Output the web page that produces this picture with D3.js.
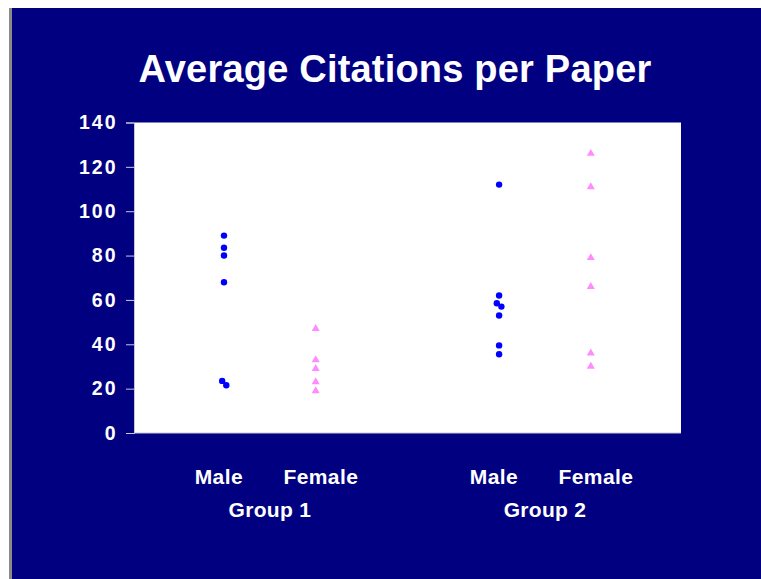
<!DOCTYPE html>
<html>
<head>
<meta charset="utf-8">
<script src="https://cdn.jsdelivr.net/npm/d3@7"></script>
<style>
  html, body { margin: 0; padding: 0; background: #ffffff; }
  svg { display: block; }
  text { font-family: "Liberation Sans", Arial, sans-serif; font-weight: bold; fill: #ffffff; }
</style>
</head>
<body>
<svg id="chart" width="761" height="579"></svg>
<script>
// Citation data by group and gender
const groups = ["Group 1", "Group 2"];
const genders = ["Male", "Female"];
const groupPositions = [[1, 2], [4, 5]];

const group1Male = [89, 83.5, 80, 68, 23.5, 21.5];
const group1MaleJitter = [0, 0, 0, 0, -0.02, 0.025];
const group1Female = [47, 33, 29, 23, 19];
const group2Male = [112, 62, 58.5, 57, 53, 39.5, 35.5];
const group2MaleJitter = [0, 0, -0.025, 0.025, 0, 0, 0];
const group2Female = [126, 111, 79, 66, 36, 30];

const yTicks = [0, 20, 40, 60, 80, 100, 120, 140];
const title = "Average Citations per Paper";

const W = 761, H = 579;
const svg = d3.select("#chart");

// slide frame
svg.append("rect").attr("x", 0).attr("y", 0).attr("width", W).attr("height", H).attr("fill", "#ffffff");
svg.append("rect").attr("x", 9).attr("y", 8).attr("width", W - 9).attr("height", H - 8).attr("fill", "#8a8a8a");
svg.append("rect").attr("x", 12).attr("y", 8).attr("width", W - 12).attr("height", H - 8).attr("fill", "#000080");

const plot = { left: 134, right: 681, top: 122.5, bottom: 433 };

const x = d3.scaleLinear().domain([0, 6]).range([132.3, 682.5]);
const y = d3.scaleLinear().domain([0, 140]).range([plot.bottom, plot.top]);

// plot area
svg.append("rect")
  .attr("x", plot.left).attr("y", plot.top)
  .attr("width", plot.right - plot.left).attr("height", plot.bottom - plot.top)
  .attr("fill", "#ffffff");

// y axis
const yAxis = d3.axisLeft(y).tickValues(yTicks).tickSize(8).tickPadding(10).tickFormat(d3.format("d"));
const gy = svg.append("g").attr("transform", `translate(${plot.left},0)`).call(yAxis);
gy.select(".domain").attr("stroke", "#c8c8d8");
gy.selectAll(".tick line").attr("stroke", "#c8c8d8");
gy.selectAll(".tick text")
  .attr("fill", "#ffffff")
  .attr("dx", "1.5")
  .style("font-size", "19.5px")
  .style("letter-spacing", "2px")
  .style("font-family", "'Liberation Sans', Arial, sans-serif")
  .style("font-weight", "bold");

// x baseline
svg.append("line")
  .attr("x1", plot.left).attr("x2", plot.right)
  .attr("y1", plot.bottom).attr("y2", plot.bottom)
  .attr("stroke", "#c8c8d8");

// title
svg.append("text")
  .attr("x", 395).attr("y", 82)
  .attr("text-anchor", "middle")
  .style("font-size", "38px")
  .style("letter-spacing", "0.2px")
  .text(title);

// category and group labels
groups.forEach((g, gi) => {
  const pos = groupPositions[gi];
  const cx = x((pos[0] + pos[1]) / 2);
  genders.forEach((s, si) => {
    svg.append("text")
      .attr("x", cx + (si === 0 ? -51 : 51))
      .attr("y", 484)
      .attr("text-anchor", "middle")
      .style("font-size", "21px")
      .style("letter-spacing", "0.4px")
      .text(s);
  });
  svg.append("text")
    .attr("x", cx)
    .attr("y", 517)
    .attr("text-anchor", "middle")
    .style("font-size", "21px")
    .style("letter-spacing", "0.3px")
    .text(g);
});

// markers
const maleSeries = [
  { pos: groupPositions[0][0], values: group1Male, jitter: group1MaleJitter },
  { pos: groupPositions[1][0], values: group2Male, jitter: group2MaleJitter }
];
const femaleSeries = [
  { pos: groupPositions[0][1], values: group1Female },
  { pos: groupPositions[1][1], values: group2Female }
];

maleSeries.forEach(s => {
  svg.append("g").selectAll("circle")
    .data(s.values)
    .join("circle")
    .attr("cx", (d, i) => x(s.pos + s.jitter[i]))
    .attr("cy", d => y(d))
    .attr("r", 3.2)
    .attr("fill", "#0000ff");
});

const tri = d3.symbol().type(d3.symbolTriangle).size(28);
femaleSeries.forEach(s => {
  svg.append("g").selectAll("path")
    .data(s.values)
    .join("path")
    .attr("d", tri)
    .attr("transform", d => `translate(${x(s.pos)},${y(d)})`)
    .attr("fill", "#ff8cff");
});
</script>
</body>
</html>
